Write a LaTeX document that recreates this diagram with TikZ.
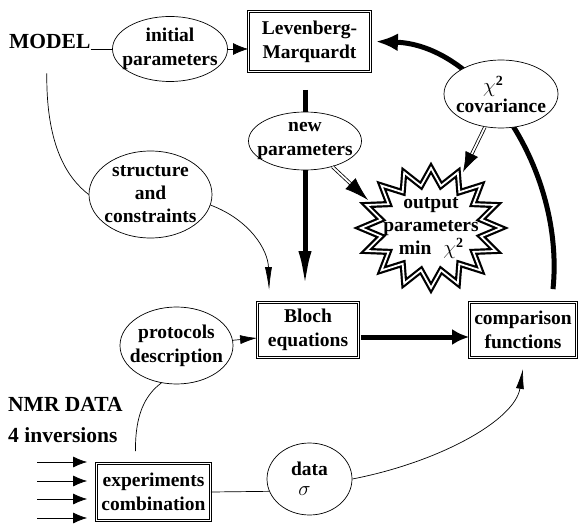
\documentclass[tikz,border=0pt]{standalone}
\usepackage{fontspec}
\setmainfont{Liberation Serif}
\usetikzlibrary{positioning, shapes.geometric, arrows.meta, calc}

\newcommand{\chisq}{$\chi$\raisebox{7bp}{\fontsize{14bp}{14bp}\selectfont 2}}

\begin{document}
\begin{tikzpicture}[
    x=1bp, y=-1bp,
    font=\fontsize{19.5bp}{24bp}\selectfont\bfseries,
    % --- node styles ---
    box/.style     ={draw, double, line width=0.8pt, double distance=1.5pt,
                     fill=white, align=center, inner sep=0pt},
    oval/.style    ={draw, ellipse, line width=0.7pt, fill=white, align=center,
                     inner xsep=-30bp, inner ysep=-20bp},
    title/.style   ={font=\fontsize{21.5bp}{26bp}\selectfont\bfseries,
                     anchor=west, inner sep=0pt},
    % --- wire styles ---
    wire/.style    ={line width=0.7pt},
    thin/.style    ={wire, -{Latex[length=16bp, width=9bp]}},
    heavy/.style   ={line width=5bp, -{Latex[length=22bp, width=18bp]}},
    hollow/.style  ={double, line width=0.8pt, double distance=1.8pt,
                     -{Latex[length=24bp, width=15bp]}},
    starline/.style={draw, fill=white, double, line width=2.2bp,
                     double distance=1.8bp, line join=miter},
]
\useasboundingbox (0,0) rectangle (582,527);

% =============== titles ===============
\node[title] (model) at (9,41)  {MODEL};
\node[title] (nmr)   at (8,404) {NMR DATA};
\node[title] (inv)   at (8,435) {4 inversions};

% =============== boxes ===============
\node[box, minimum width=122bp, minimum height=60bp] (lm)    at (309.5,41.5) {Levenberg-\\Marquardt};
\node[box, minimum width=101bp, minimum height=55bp] (bloch) at (308,330)    {Bloch\\equations};
\node[box, minimum width=107bp, minimum height=55bp] (cmp)   at (523,330)    {comparison\\functions};
\node[box, minimum width=114bp, minimum height=57bp] (expt)  at (153.5,492)  {experiments\\combination};

% =============== fit loop ===============
\draw[heavy] ([xshift=30bp, yshift=13bp]cmp.north)
    .. controls (565,170) and (480,45) .. ([xshift=5bp]lm.east);

% =============== ellipses ===============
\node[oval, minimum width=115bp, minimum height=65bp] (init)  at (170,49)      {initial\\parameters};
\node[oval, minimum width=113bp, minimum height=58bp] (newp)  at (305,141)     {new\\parameters};
\node[oval, minimum width=114bp, minimum height=68bp] (cov)   at (501,94)      {\chisq\hspace*{16bp}\\[-4bp]covariance};
\node[oval, minimum width=123bp, minimum height=87bp] (struc) at (150.5,194.5) {structure\\[-1bp]and\\[-1bp]constraints};
\node[oval, minimum width=113bp, minimum height=77bp] (proto) at (176.5,345.5) {protocols\\description};
\node[oval, minimum width=85bp,  minimum height=72bp] (data)  at (309.5,479)   {data\\[-4bp]$\sigma$\hspace*{10bp}};

% =============== output star ===============
\draw[starline, shift={(431,228)}] (0:70 and 60)
    \foreach \a in {0,22.5,...,315} { -- (\a+11.25:51 and 43) -- (\a+22.5:70 and 60) }
    -- (348.75:51 and 43) -- cycle;
\node[align=center] (outp) at (431,228) {output\\[-1bp]parameters\\[-1bp]min\hspace{12bp}\chisq};
\coordinate (starnw) at (368,200);
\coordinate (starne) at (463,172);

% =============== wires ===============
\draw[wire] (model.east |- init.west) -- (init.west);
\draw[thin, -{Latex[length=15bp, width=12bp]}] (init.east) -- (init.east -| lm.west);
\draw[heavy, -, shorten <=18bp] (newp.north |- lm.south) -- (newp.north);
\draw[heavy, -{Latex[length=38bp, width=13bp]}, shorten >=13bp] (newp.south) -- (newp.south |- bloch.north);
\draw[heavy, -{Latex[length=17bp, width=16bp]}, shorten <=2bp] ([yshift=-7bp]bloch.east) -- ([yshift=-7bp]cmp.west);
\draw[hollow] (newp) -- (starnw);
\draw[hollow, -{Latex[length=20bp, width=14bp]}] (cov) -- (starne);

\draw[wire] ([xshift=-3bp, yshift=-25bp]model.south)
    .. controls (46,150) and (70,180) .. (struc.west);
\draw[thin, -{Latex[length=23bp, width=7bp]}] (struc.-10)
    .. controls (250,220) and (268,250) .. ([xshift=12bp, yshift=12bp]bloch.north west);
\draw[thin, -{Latex[length=17bp, width=9bp]}] (proto) -- ([yshift=-8bp]bloch.west);
\draw[wire] ([xshift=-18bp, yshift=12bp]expt.north)
    .. controls (135,415) and (145,395) .. (proto.-112);
\draw[wire] (expt.east) -- (data.197);
\draw[thin, -{Latex[length=20bp, width=8bp]}] (data.east)
    .. controls (440,462) and (515,420) .. ([yshift=-11bp]cmp.south);

% =============== inputs ===============
\foreach \i/\y in {1/462, 2/481, 3/499, 4/518} {
  \coordinate (in\i) at (37,\y);
  \draw[thin, -{Latex[length=14bp, width=11bp]}, shorten >=9bp] (in\i) -- (in\i -| expt.west);
}

\end{tikzpicture}
\end{document}
